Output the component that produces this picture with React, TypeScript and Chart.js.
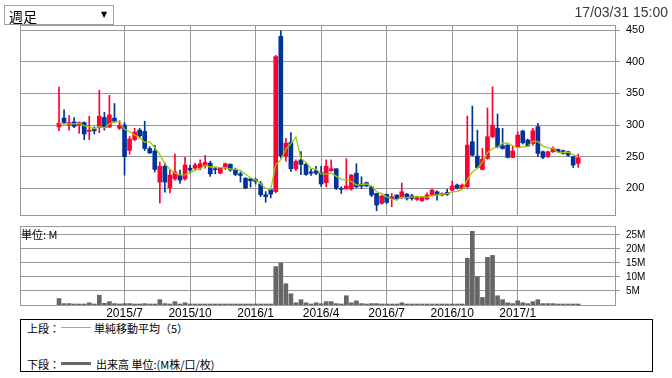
import React, { useEffect, useRef } from 'react';
import { Chart, registerables } from 'chart.js';

Chart.register(...registerables);

// Weekly candles, index 0 = first week shown (Apr 2015) ... index 103 = week ending 17/03/31
const opens = [
  297, 311, 300, 305, 300, 304, 290, 294, 296, 312,
  297, 311, 295, 300, 260, 277, 292, 290, 263, 259,
  210, 235, 201, 215, 221, 215, 232, 232, 232, 236,
  240, 231, 224, 232, 238, 229, 223, 216, 215, 214,
  207, 190, 198, 195, 440, 250.5, 272.5, 231, 245, 238,
  226, 228, 225, 209, 228, 231, 200, 199, 199, 224,
  206.8, 209, 202.6, 192, 176.3, 190.5, 184, 189.5, 185.3, 191,
  188.4, 182.6, 180.5, 183.2, 189.5, 194.7, 189.5, 193.7, 197.4, 205.3,
  200, 202.6, 273.7, 251, 230, 247.4, 281.6, 294.7, 267.4, 268.4,
  249, 265.8, 290.5, 276.3, 271, 297.4, 257.9, 250, 257.9, 261.6,
  259.5, 257.9, 250, 239.5,
];
const highs = [
  360, 324, 315, 312, 305, 305, 314, 297, 355, 320,
  347, 334, 307, 304, 282, 295, 295, 306, 266, 268,
  242, 240, 229, 254, 229, 249, 237, 240, 245, 252,
  243, 233, 233, 240, 239, 232, 226, 217, 216, 216,
  211, 195, 199, 410, 449, 279, 288, 245, 258, 240,
  231, 235, 235, 245, 245, 231, 202.6, 247, 222, 239,
  218.4, 210, 203, 192, 189.5, 191, 192, 190, 208.4, 192,
  190.5, 188, 187, 193, 199, 196, 193, 198.4, 211.6, 207,
  207, 314.2, 330, 292, 263, 327, 360.5, 317.4, 294.7, 269,
  266.8, 289.5, 292, 278, 295, 302.6, 259, 259, 265.8, 262,
  260.5, 259, 250.5, 254.2,
];
const lows = [
  291, 302, 292, 296, 287, 277, 277, 286, 288, 292,
  296, 304, 293, 221, 254, 275, 279, 260, 255, 226,
  177, 194, 193, 213, 208, 213, 224, 230, 229, 232,
  219, 223, 223, 230, 227, 220, 210, 199.5, 202, 207,
  187, 178, 185, 193, 248, 243, 227, 228, 221.6, 220.5,
  220.5, 221.6, 203, 202.6, 227, 198, 192, 199, 197, 201,
  200, 203, 187, 164.7, 175, 176, 171, 181.6, 184, 181.6,
  181.6, 181, 179.5, 182, 188, 181.6, 188, 189, 196, 199,
  199, 201, 251, 232, 229, 246, 280, 264, 262, 248,
  248, 265, 270, 266, 268, 250, 247, 249, 256.8, 257,
  254.2, 250, 233.2, 233.2,
];
const closes = [
  303, 304, 304, 298, 304, 286, 292, 291, 314, 296,
  316, 306, 299, 250, 278, 289, 283, 263, 256, 230,
  235, 210, 221, 226, 213, 237, 229, 237, 239, 241,
  223, 229.5, 232, 239, 229, 222, 220.5, 200.5, 212, 211,
  190, 187, 191, 408, 251.5, 271.5, 231, 242.6, 238, 222,
  224, 224, 207, 235, 231, 200, 198.4, 203.7, 221, 202.6,
  203.7, 203.7, 189.5, 173.7, 187.9, 178, 186.8, 183.7, 194.7, 184.2,
  184.2, 186.8, 185.8, 189.5, 197.4, 189.5, 192, 190.5, 203.7, 200,
  205.3, 268.4, 252.6, 233, 246.3, 281.6, 300, 265.8, 263, 249,
  259, 284.2, 272, 266.8, 291, 255.3, 249, 257.9, 263.2, 257.9,
  255.3, 252.6, 236.8, 248.4,
];
// Volume in millions
const volumesM = [
  2.3, 0.5, 0.5, 0.1, 0.1, 0.1, 0.8, 0.2, 3.5, 0.6,
  1.2, 0.5, 0.2, 0.5, 0.5, 0.1, 0.1, 0.5, 0.1, 0.1,
  1.9, 0.5, 0.1, 1.2, 0.1, 0.8, 0.1, 0.1, 0.1, 0.1,
  0.1, 0.1, 0.1, 0.1, 0.1, 0.1, 0.1, 0.1, 0.1, 0.1,
  0.1, 0.1, 0.1, 13.7, 14.9, 7.6, 4.0, 0.8, 1.9, 0.8,
  0.2, 0.8, 0.5, 1.2, 1.2, 0.5, 0.1, 3.3, 0.8, 1.5,
  0.5, 0.1, 0.5, 0.5, 0.1, 0.1, 0.1, 0.1, 0.8, 0.1,
  0.1, 0.1, 0.1, 0.1, 0.1, 0.1, 0.1, 0.1, 0.1, 0.1,
  0.1, 16.7, 26.3, 10.1, 2.7, 17.0, 17.7, 3.3, 1.9, 0.8,
  0.5, 1.5, 0.8, 0.5, 1.2, 1.9, 0.5, 0.5, 0.5, 0.1,
  0.1, 0.1, 0.1, 0.1,
];
// 5-week SMA values for the first 4 weeks (depend on earlier weeks not shown)
const maHead = [302, 302, 302, 302];
const quarterTickIdx = [13, 26, 39, 52, 65, 78, 91];
const quarterLabels = ['2015/7', '2015/10', '2016/1', '2016/4', '2016/7', '2016/10', '2017/1'];
const priceTicks = [200, 250, 300, 350, 400, 450];
const volumeTicks = [5, 10, 15, 20, 25];

const X_MIN = -7.74;
const X_MAX = 110.3;
const UP = '#ff0033';
const DOWN = '#003399';
const GRID = '#999999';

const framePlugin = {
  id: 'frame',
  beforeDatasetsDraw(chart: any) {
    const { ctx, chartArea: a } = chart;
    ctx.save();
    ctx.strokeStyle = GRID;
    ctx.lineWidth = 1;
    const l = Math.round(a.left) + 0.5;
    const t = Math.round(a.top) + 0.5;
    const r = Math.round(a.right) + 0.5;
    const b = Math.round(a.bottom) + 0.5;
    ctx.strokeRect(l, t, r - l, b - t);
    ctx.restore();
  },
};

const zeroPad = (s: any) => {
  s.paddingTop = 0;
  s.paddingBottom = 0;
  s.paddingLeft = 0;
  s.paddingRight = 0;
};

export default function App() {
  const priceRef = useRef<HTMLCanvasElement>(null);
  const volRef = useRef<HTMLCanvasElement>(null);

  useEffect(() => {
    Chart.defaults.font.family = "'Liberation Sans', Arial, sans-serif";
    const ma = closes.map((_, i) =>
      i < maHead.length ? maHead[i] : closes.slice(i - 4, i + 1).reduce((s, v) => s + v, 0) / 5
    );
    const colors = closes.map((c, i) => (c >= opens[i] ? UP : DOWN));

    const xScaleBase = (showLabels: boolean) => ({
      type: 'linear' as const,
      min: X_MIN,
      max: X_MAX,
      offset: false,
      grid: { offset: false, color: GRID, drawTicks: false, lineWidth: 1 },
      border: { display: false },
      ticks: {
        display: showLabels,
        autoSkip: false,
        maxRotation: 0,
        minRotation: 0,
        padding: 1,
        color: '#000',
        font: { size: 12 },
        callback: (v: any) => {
          const k = quarterTickIdx.indexOf(Number(v));
          return k >= 0 ? quarterLabels[k] : '';
        },
      },
      afterBuildTicks: (s: any) => {
        s.ticks = quarterTickIdx.map((v) => ({ value: v }));
      },
    });

    const priceChart = new Chart(priceRef.current!, {
      type: 'bar',
      data: {
        datasets: [
          {
            type: 'line',
            data: ma.map((v, i) => ({ x: i, y: v })),
            borderColor: '#99cc00',
            borderWidth: 1.3,
            pointRadius: 0,
            tension: 0,
            order: 0,
          } as any,
          {
            type: 'bar',
            data: lows.map((l, i) => ({ x: i, y: [l, highs[i]] })),
            backgroundColor: colors,
            barThickness: 1,
            grouped: false,
            order: 2,
          } as any,
          {
            type: 'bar',
            data: opens.map((o, i) => ({ x: i, y: [Math.min(o, closes[i]), Math.max(o, closes[i])] })),
            backgroundColor: colors,
            barThickness: 4,
            minBarLength: 1,
            grouped: false,
            order: 1,
          } as any,
        ],
      },
      options: {
        responsive: false,
        animation: false,
        devicePixelRatio: 1,
        events: [],
        layout: { padding: { left: 20, top: 25, right: 0, bottom: 5 } },
        plugins: { legend: { display: false }, tooltip: { enabled: false } },
        scales: {
          x: {
            ...xScaleBase(false),
            afterFit: (s: any) => {
              s.height = 0;
              zeroPad(s);
            },
          } as any,
          y: {
            type: 'linear',
            position: 'right',
            min: 158,
            max: 458,
            grid: { color: GRID, tickLength: 5, lineWidth: 1 },
            border: { display: false },
            ticks: { color: '#000', padding: 6, font: { size: 11 } },
            afterBuildTicks: (s: any) => {
              s.ticks = priceTicks.map((v) => ({ value: v }));
            },
            afterFit: (s: any) => {
              s.width = 57;
              zeroPad(s);
            },
          } as any,
        },
      },
      plugins: [framePlugin],
    });

    const volChart = new Chart(volRef.current!, {
      type: 'bar',
      data: {
        datasets: [
          {
            data: volumesM.map((v, i) => ({ x: i, y: v })),
            backgroundColor: '#666666',
            barThickness: 4,
            minBarLength: 1,
            grouped: false,
          } as any,
        ],
      },
      options: {
        responsive: false,
        animation: false,
        devicePixelRatio: 1,
        events: [],
        layout: { padding: { left: 20, top: 6, right: 0, bottom: 0 } },
        plugins: { legend: { display: false }, tooltip: { enabled: false } },
        scales: {
          x: {
            ...xScaleBase(true),
            afterFit: (s: any) => {
              s.height = 15;
              zeroPad(s);
            },
          } as any,
          y: {
            type: 'linear',
            position: 'right',
            min: 0,
            max: 28.2,
            beginAtZero: true,
            grid: { color: GRID, tickLength: 5, lineWidth: 1 },
            border: { display: false },
            ticks: {
              color: '#000',
              padding: 6,
              font: { size: 10 },
              callback: (v: any) => `${v}M`,
            },
            afterBuildTicks: (s: any) => {
              s.ticks = volumeTicks.map((v) => ({ value: v }));
            },
            afterFit: (s: any) => {
              s.width = 57;
              zeroPad(s);
            },
          } as any,
        },
      },
      plugins: [framePlugin],
    });

    return () => {
      priceChart.destroy();
      volChart.destroy();
    };
  }, []);

  const cjk = "'Noto Sans CJK JP', sans-serif";

  return (
    <div
      style={{
        position: 'fixed',
        left: 0,
        top: 0,
        width: 672,
        height: 378,
        background: '#fff',
        overflow: 'hidden',
      }}
    >
      <canvas ref={priceRef} width={672} height={220} style={{ position: 'absolute', left: 0, top: 0 }} />
      <canvas ref={volRef} width={672} height={100} style={{ position: 'absolute', left: 0, top: 220 }} />

      {/* period selector */}
      <div
        style={{
          position: 'absolute',
          left: 4,
          top: 5,
          width: 110,
          height: 20,
          boxSizing: 'border-box',
          border: '1px solid #a0a0a0',
          background: '#fff',
        }}
      >
        <span
          style={{
            position: 'absolute',
            left: 4,
            top: 0,
            fontFamily: cjk,
            fontSize: 14,
            lineHeight: '20px',
            color: '#000',
          }}
        >
          週足
        </span>
        <span
          style={{
            position: 'absolute',
            left: 96,
            top: 1,
            fontFamily: "'DejaVu Sans', sans-serif",
            fontSize: 8,
            lineHeight: '16px',
            color: '#000',
          }}
        >
          ▼
        </span>
      </div>

      {/* timestamp */}
      <div
        style={{
          position: 'absolute',
          right: 4,
          top: 4,
          fontFamily: "'Liberation Sans', Arial, sans-serif",
          fontSize: 14,
          lineHeight: '16px',
          color: '#3a3a3a',
          whiteSpace: 'nowrap',
        }}
      >
        17/03/31 15:00
      </div>

      {/* volume unit */}
      <div
        style={{
          position: 'absolute',
          left: 21,
          top: 228,
          fontFamily: cjk,
          fontSize: 11,
          lineHeight: '13px',
          color: '#000',
          whiteSpace: 'nowrap',
        }}
      >
        単位: M
      </div>

      {/* legend */}
      <div
        style={{
          position: 'absolute',
          left: 20,
          top: 319,
          width: 633,
          height: 53,
          boxSizing: 'border-box',
          border: '1px solid #000',
          background: '#fff',
          fontFamily: cjk,
          fontSize: 11,
          color: '#000',
        }}
      >
        <span style={{ position: 'absolute', left: 6, top: 1, lineHeight: '14px', whiteSpace: 'nowrap' }}>上段：</span>
        <div style={{ position: 'absolute', left: 40, top: 7, width: 30, height: 1, background: '#99cc00' }} />
        <span style={{ position: 'absolute', left: 73, top: 1, lineHeight: '14px', whiteSpace: 'nowrap' }}>
          単純移動平均（5）
        </span>
        <span style={{ position: 'absolute', left: 6, top: 37, lineHeight: '14px', whiteSpace: 'nowrap' }}>下段：</span>
        <div style={{ position: 'absolute', left: 40, top: 42, width: 30, height: 3, background: '#666666' }} />
        <span style={{ position: 'absolute', left: 75, top: 37, lineHeight: '14px', whiteSpace: 'nowrap' }}>
          出来高 単位:(M株/口/枚)
        </span>
      </div>
    </div>
  );
}
